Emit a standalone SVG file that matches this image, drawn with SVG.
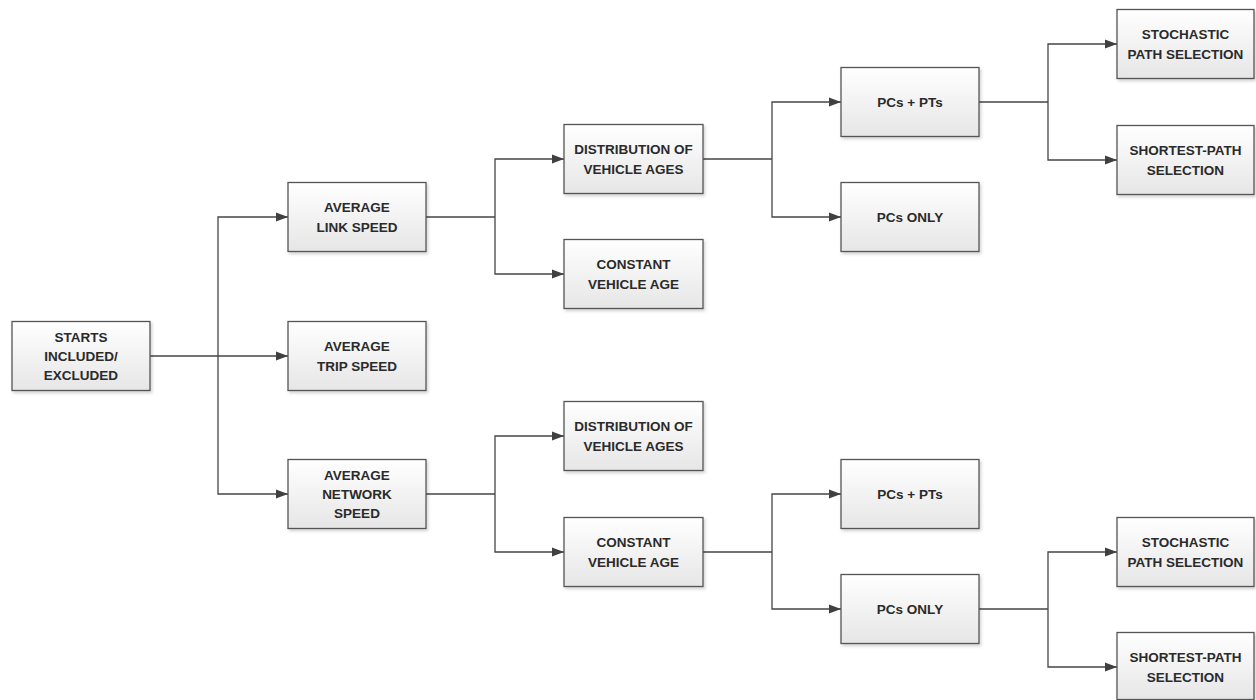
<svg xmlns="http://www.w3.org/2000/svg" width="1256" height="700" viewBox="0 0 1256 700">
<defs>
<linearGradient id="g" x1="0" y1="0" x2="0" y2="1">
<stop offset="0" stop-color="#ffffff"/>
<stop offset="1" stop-color="#e6e6e6"/>
</linearGradient>
<filter id="sh" x="-10%" y="-10%" width="125%" height="130%">
<feDropShadow dx="1.5" dy="2" stdDeviation="1.5" flood-color="#000" flood-opacity="0.18"/>
</filter>
<marker id="ar" viewBox="0 0 12 10" refX="12" refY="5" markerWidth="12" markerHeight="10" markerUnits="userSpaceOnUse" orient="auto">
<path d="M0,0.5 L12,5 L0,9.5 Z" fill="#404040"/>
</marker>
</defs>
<style>
.box{fill:url(#g);stroke:#555555;stroke-width:1.3;filter:url(#sh)}
.t{font-family:"Liberation Sans",Arial,sans-serif;font-weight:bold;font-size:13.5px;fill:#2a2a2a;text-anchor:middle}
.c{fill:none;stroke:#454545;stroke-width:1.3}
.a{marker-end:url(#ar)}
</style>
<rect width="1256" height="700" fill="#ffffff"/>
<g id="connectors">
<path class="c a" d="M150,356 H288"/>
<path class="c a" d="M218,356 V217 H288"/>
<path class="c a" d="M218,356 V494 H288"/>
<path class="c" d="M426,217 H495"/>
<path class="c a" d="M495,217 V159 H564"/>
<path class="c a" d="M495,217 V274 H564"/>
<path class="c" d="M426,494 H495"/>
<path class="c a" d="M495,494 V436 H564"/>
<path class="c a" d="M495,494 V552 H564"/>
<path class="c" d="M703,159 H772"/>
<path class="c a" d="M772,159 V102 H841"/>
<path class="c a" d="M772,159 V217 H841"/>
<path class="c" d="M703,552 H772"/>
<path class="c a" d="M772,552 V494 H841"/>
<path class="c a" d="M772,552 V609 H841"/>
<path class="c" d="M979,102 H1048"/>
<path class="c a" d="M1048,102 V44 H1117"/>
<path class="c a" d="M1048,102 V160 H1117"/>
<path class="c" d="M979,609 H1048"/>
<path class="c a" d="M1048,609 V552 H1117"/>
<path class="c a" d="M1048,609 V667 H1117"/>
</g>
<g id="n-starts"><rect class="box" x="12" y="321.5" width="138" height="69"/>
<text class="t" x="81" y="342">STARTS</text><text class="t" x="81" y="361">INCLUDED/</text><text class="t" x="81" y="380">EXCLUDED</text></g>
<g id="n-link"><rect class="box" x="288" y="182.5" width="138" height="69"/>
<text class="t" x="357" y="212">AVERAGE</text><text class="t" x="357" y="232">LINK SPEED</text></g>
<g id="n-trip"><rect class="box" x="288" y="321.5" width="138" height="69"/>
<text class="t" x="357" y="351">AVERAGE</text><text class="t" x="357" y="371">TRIP SPEED</text></g>
<g id="n-network"><rect class="box" x="288" y="459.5" width="138" height="69"/>
<text class="t" x="357" y="480">AVERAGE</text><text class="t" x="357" y="499">NETWORK</text><text class="t" x="357" y="518">SPEED</text></g>
<g id="n-dist1"><rect class="box" x="564" y="124.5" width="139" height="69"/>
<text class="t" x="633.5" y="154">DISTRIBUTION OF</text><text class="t" x="633.5" y="174">VEHICLE AGES</text></g>
<g id="n-const1"><rect class="box" x="564" y="239.5" width="139" height="69"/>
<text class="t" x="633.5" y="269">CONSTANT</text><text class="t" x="633.5" y="289">VEHICLE AGE</text></g>
<g id="n-dist2"><rect class="box" x="564" y="401.5" width="139" height="69"/>
<text class="t" x="633.5" y="431">DISTRIBUTION OF</text><text class="t" x="633.5" y="451">VEHICLE AGES</text></g>
<g id="n-const2"><rect class="box" x="564" y="517.5" width="139" height="69"/>
<text class="t" x="633.5" y="547">CONSTANT</text><text class="t" x="633.5" y="567">VEHICLE AGE</text></g>
<g id="n-pcpt1"><rect class="box" x="841" y="67.5" width="138" height="69"/>
<text class="t" x="910" y="107">PCs + PTs</text></g>
<g id="n-pconly1"><rect class="box" x="841" y="182.5" width="138" height="69"/>
<text class="t" x="910" y="222">PCs ONLY</text></g>
<g id="n-pcpt2"><rect class="box" x="841" y="459.5" width="138" height="69"/>
<text class="t" x="910" y="499">PCs + PTs</text></g>
<g id="n-pconly2"><rect class="box" x="841" y="574.5" width="138" height="69"/>
<text class="t" x="910" y="614">PCs ONLY</text></g>
<g id="n-stoch1"><rect class="box" x="1117" y="9.5" width="137" height="69"/>
<text class="t" x="1185.5" y="39">STOCHASTIC</text><text class="t" x="1185.5" y="59">PATH SELECTION</text></g>
<g id="n-short1"><rect class="box" x="1117" y="125.5" width="137" height="69"/>
<text class="t" x="1185.5" y="155">SHORTEST-PATH</text><text class="t" x="1185.5" y="175">SELECTION</text></g>
<g id="n-stoch2"><rect class="box" x="1117" y="517.5" width="137" height="69"/>
<text class="t" x="1185.5" y="547">STOCHASTIC</text><text class="t" x="1185.5" y="567">PATH SELECTION</text></g>
<g id="n-short2"><rect class="box" x="1117" y="632.5" width="137" height="67"/>
<text class="t" x="1185.5" y="662">SHORTEST-PATH</text><text class="t" x="1185.5" y="682">SELECTION</text></g>
</svg>
